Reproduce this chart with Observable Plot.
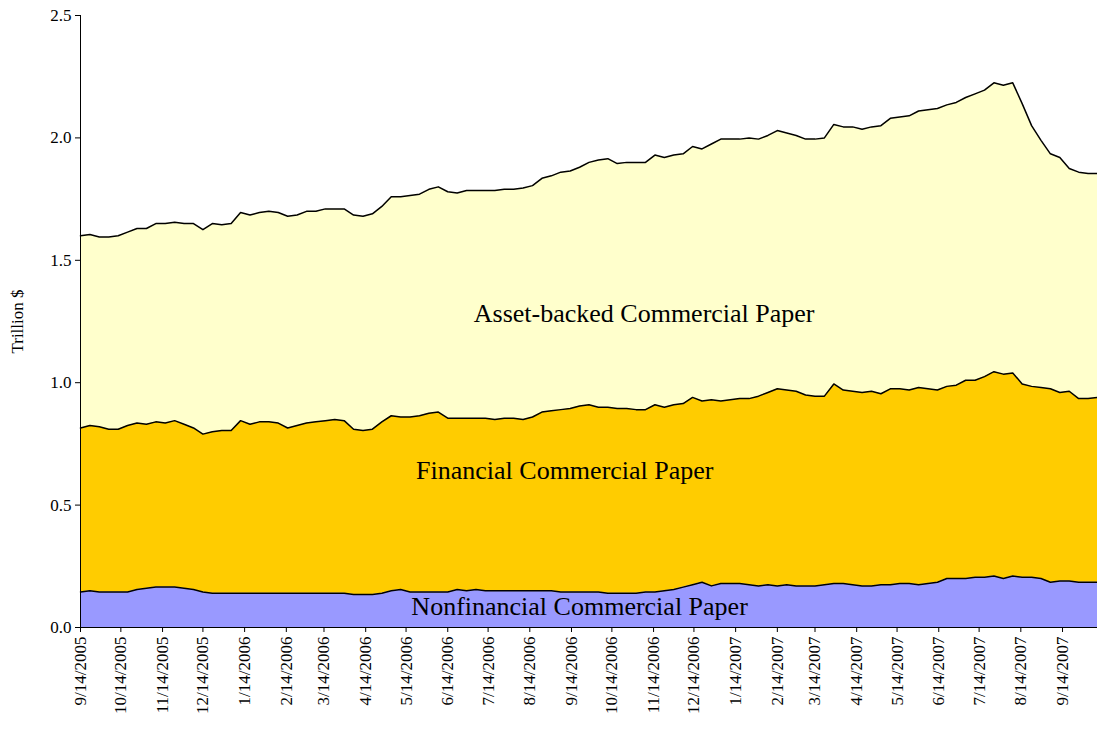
<!DOCTYPE html>
<html><head><meta charset="utf-8">
<script src="https://cdn.jsdelivr.net/npm/d3@7"></script>
<script src="https://cdn.jsdelivr.net/npm/@observablehq/plot@0.6"></script>
<style>body{margin:0;background:#fff}</style>
</head><body><div id="chart"></div>
<script>
const startDate = "2005-09-14";
const total = [1.60,1.605,1.595,1.595, 1.60,1.615,1.63,1.63,1.65, 1.65,1.655,1.65,1.65, 1.625,1.65,1.645,1.65,
1.695,1.685,1.695,1.70,1.695, 1.68,1.685,1.70,1.70, 1.71,1.71,1.71,1.685, 1.68,1.69,1.72,1.76,1.76,
1.765,1.77,1.79,1.80, 1.78,1.775,1.785,1.785, 1.785,1.785,1.79,1.79,1.795, 1.805,1.835,1.845,1.86,
1.865,1.88,1.90,1.91, 1.915,1.895,1.90,1.90,1.90, 1.93,1.92,1.93,1.935, 1.965,1.955,1.975,1.995,
1.995,1.995,2.0,1.995,2.01, 2.03,2.02,2.01,1.995, 1.995,2.0,2.055,2.045, 2.045,2.035,2.045,2.05,2.08,
2.085,2.09,2.11,2.115, 2.12,2.135,2.145,2.165, 2.18,2.195,2.225,2.215,2.225, 2.14,2.05,1.99,1.935,
1.92,1.875,1.86,1.855,1.855];
const financialTop = [0.815,0.825,0.82,0.81, 0.81,0.825,0.835,0.83,0.84, 0.835,0.845,0.83,0.815, 0.79,0.80,0.805,0.805,
0.845,0.83,0.84,0.84,0.835, 0.815,0.825,0.835,0.84, 0.845,0.85,0.845,0.81, 0.805,0.81,0.84,0.865,0.86,
0.86,0.865,0.875,0.88, 0.855,0.855,0.855,0.855, 0.855,0.85,0.855,0.855,0.85, 0.86,0.88,0.885,0.89,
0.895,0.905,0.91,0.90, 0.90,0.895,0.895,0.89,0.89, 0.91,0.90,0.91,0.915, 0.94,0.925,0.93,0.925,
0.93,0.935,0.935,0.945,0.96, 0.975,0.97,0.965,0.95, 0.945,0.945,0.995,0.97, 0.965,0.96,0.965,0.955,0.975,
0.975,0.97,0.98,0.975, 0.97,0.985,0.99,1.01, 1.01,1.025,1.045,1.035,1.04, 0.995,0.985,0.98,0.975,
0.96,0.965,0.935,0.935,0.94];
const nonfinancial = [0.145,0.15,0.145,0.145, 0.145,0.145,0.155,0.16,0.165, 0.165,0.165,0.16,0.155, 0.145,0.14,0.14,0.14,
0.14,0.14,0.14,0.14,0.14, 0.14,0.14,0.14,0.14, 0.14,0.14,0.14,0.135, 0.135,0.135,0.14,0.15,0.155,
0.145,0.145,0.145,0.145, 0.145,0.155,0.15,0.155, 0.15,0.15,0.15,0.15,0.15, 0.15,0.15,0.15,0.145,
0.145,0.145,0.145,0.145, 0.14,0.14,0.14,0.14,0.145, 0.145,0.15,0.155,0.165, 0.175,0.185,0.17,0.18,
0.18,0.18,0.175,0.17,0.175, 0.17,0.175,0.17,0.17, 0.17,0.175,0.18,0.18, 0.175,0.17,0.17,0.175,0.175,
0.18,0.18,0.175,0.18, 0.185,0.2,0.2,0.2, 0.205,0.205,0.21,0.2,0.21, 0.205,0.205,0.2,0.185,
0.19,0.19,0.185,0.185,0.185];
const tickLabels = ["9/14/2005","10/14/2005","11/14/2005","12/14/2005","1/14/2006","2/14/2006","3/14/2006","4/14/2006","5/14/2006","6/14/2006","7/14/2006","8/14/2006","9/14/2006","10/14/2006","11/14/2006","12/14/2006","1/14/2007","2/14/2007","3/14/2007","4/14/2007","5/14/2007","6/14/2007","7/14/2007","8/14/2007","9/14/2007"];
const seriesNames = ["Nonfinancial Commercial Paper","Financial Commercial Paper","Asset-backed Commercial Paper"];
const seriesColors = ["#9999ff","#ffcc00","#ffffcc"];

const start = d3.utcParse("%Y-%m-%d")(startDate);
const rows = total.map((t,i)=>({date: d3.utcDay.offset(start, 7*i), n: nonfinancial[i], f: financialTop[i], t}));
const ticks = tickLabels.map(s=>{const [m,d,y]=s.split("/").map(Number);return new Date(Date.UTC(y,m-1,d));});
const labels = [
  {date: new Date(Date.UTC(2006,10,7)), y: 1.28, text: seriesNames[2]},
  {date: new Date(Date.UTC(2006,8,9)), y: 0.64, text: seriesNames[1]},
  {date: new Date(Date.UTC(2006,8,20)), y: 0.085, text: seriesNames[0]}
];
const chart = Plot.plot({
  width: 1097, height: 734,
  marginLeft: 80, marginRight: 0, marginTop: 15, marginBottom: 107,
  style: {fontFamily: "Liberation Serif, Times New Roman, serif", fontSize: "17px", background: "#fff"},
  x: {type: "utc", domain: [rows[0].date, rows[rows.length-1].date], ticks, tickFormat: d3.utcFormat("%-m/%-d/%Y"), tickRotate: -90, label: null, tickSize: 5},
  y: {domain: [0, 2.5], ticks: [0,0.5,1,1.5,2,2.5], tickFormat: ".1f", label: "Trillion $", labelAnchor: "center", labelArrow: false, labelOffset: 70, tickSize: 5},
  marks: [
    Plot.areaY(rows, {x: "date", y1: 0, y2: "n", fill: seriesColors[0]}),
    Plot.areaY(rows, {x: "date", y1: "n", y2: "f", fill: seriesColors[1]}),
    Plot.areaY(rows, {x: "date", y1: "f", y2: "t", fill: seriesColors[2]}),
    Plot.lineY(rows, {x: "date", y: "n", stroke: "black", strokeWidth: 1.5}),
    Plot.lineY(rows, {x: "date", y: "f", stroke: "black", strokeWidth: 1.5}),
    Plot.lineY(rows, {x: "date", y: "t", stroke: "black", strokeWidth: 1.5}),
    Plot.ruleX([rows[0].date], {stroke: "black"}),
    Plot.ruleY([0], {stroke: "black"}),
    Plot.text(labels, {x: "date", y: "y", text: "text", fontSize: 26, fill: "black"})
  ]
});
document.getElementById("chart").append(chart);
</script></body></html>
